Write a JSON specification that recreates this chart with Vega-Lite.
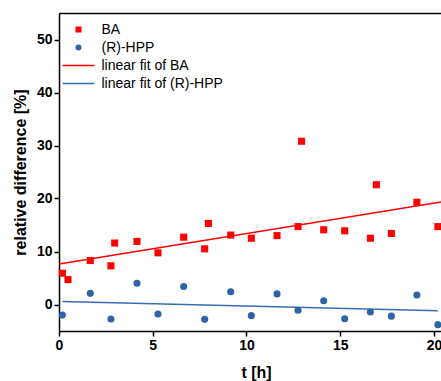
{
  "$schema": "https://vega.github.io/schema/vega-lite/v6.json",
  "autosize": {"type": "none"},
  "padding": {"left": 59, "top": 13, "right": 0, "bottom": 50},
  "width": 383,
  "height": 318,
  "background": "white",
  "config": {
    "view": {"stroke": null},
    "font": "Liberation Sans",
    "axis": {
      "grid": false,
      "domainColor": "black",
      "domainWidth": 1.5,
      "tickColor": "black",
      "tickWidth": 1.5,
      "tickSize": 5,
      "labelFont": "Liberation Sans",
      "labelFontSize": 14,
      "labelFontWeight": "bold",
      "labelColor": "black",
      "labelFlush": false,
      "titleFont": "Liberation Sans",
      "titleFontSize": 16,
      "titleFontWeight": "bold",
      "titleColor": "black"
    },
    "legend": {
      "title": null,
      "orient": "none",
      "legendX": 12.5,
      "legendY": 9.5,
      "labelFont": "Liberation Sans",
      "labelFontSize": 14,
      "labelColor": "black",
      "labelOffset": 16,
      "rowPadding": 4,
      "symbolSize": 36,
      "symbolOpacity": 1
    }
  },
  "datasets": {
    "pts": [
      {"t": 0.18, "v": 5.9, "series": "BA"},
      {"t": 0.48, "v": 4.7, "series": "BA"},
      {"t": 1.67, "v": 8.3, "series": "BA"},
      {"t": 2.77, "v": 7.3, "series": "BA"},
      {"t": 2.97, "v": 11.6, "series": "BA"},
      {"t": 4.16, "v": 11.9, "series": "BA"},
      {"t": 5.28, "v": 9.75, "series": "BA"},
      {"t": 6.65, "v": 12.7, "series": "BA"},
      {"t": 7.77, "v": 10.5, "series": "BA"},
      {"t": 7.97, "v": 15.3, "series": "BA"},
      {"t": 9.16, "v": 13.1, "series": "BA"},
      {"t": 10.26, "v": 12.5, "series": "BA"},
      {"t": 11.63, "v": 13.0, "series": "BA"},
      {"t": 12.75, "v": 14.7, "series": "BA"},
      {"t": 12.94, "v": 30.8, "series": "BA"},
      {"t": 14.12, "v": 14.1, "series": "BA"},
      {"t": 15.24, "v": 13.9, "series": "BA"},
      {"t": 16.61, "v": 12.5, "series": "BA"},
      {"t": 16.93, "v": 22.6, "series": "BA"},
      {"t": 17.73, "v": 13.4, "series": "BA"},
      {"t": 19.09, "v": 19.3, "series": "BA"},
      {"t": 20.21, "v": 14.7, "series": "BA"},
      {"t": 0.18, "v": -2.0, "series": "(R)-HPP"},
      {"t": 1.67, "v": 2.1, "series": "(R)-HPP"},
      {"t": 2.77, "v": -2.75, "series": "(R)-HPP"},
      {"t": 4.16, "v": 4.0, "series": "(R)-HPP"},
      {"t": 5.28, "v": -1.8, "series": "(R)-HPP"},
      {"t": 6.65, "v": 3.4, "series": "(R)-HPP"},
      {"t": 7.77, "v": -2.8, "series": "(R)-HPP"},
      {"t": 9.16, "v": 2.4, "series": "(R)-HPP"},
      {"t": 10.26, "v": -2.1, "series": "(R)-HPP"},
      {"t": 11.63, "v": 2.0, "series": "(R)-HPP"},
      {"t": 12.75, "v": -1.1, "series": "(R)-HPP"},
      {"t": 14.12, "v": 0.7, "series": "(R)-HPP"},
      {"t": 15.24, "v": -2.7, "series": "(R)-HPP"},
      {"t": 16.61, "v": -1.4, "series": "(R)-HPP"},
      {"t": 17.73, "v": -2.2, "series": "(R)-HPP"},
      {"t": 19.09, "v": 1.8, "series": "(R)-HPP"},
      {"t": 20.21, "v": -3.8, "series": "(R)-HPP"}
    ],
    "fits": [
      {"t": 0, "v": 7.64, "series": "linear fit of BA"},
      {"t": 20.43, "v": 19.35, "series": "linear fit of BA"},
      {"t": 0.18, "v": 0.57, "series": "linear fit of (R)-HPP"},
      {"t": 20.21, "v": -1.2, "series": "linear fit of (R)-HPP"}
    ]
  },
  "resolve": {"axis": {"x": "independent"}},
  "layer": [
    {
      "data": {"name": "fits"},
      "mark": {"type": "line", "strokeWidth": 1.5},
      "encoding": {
        "x": {
          "field": "t", "type": "quantitative",
          "scale": {"domain": [0, 20.43], "nice": false, "zero": false},
          "axis": {"orient": "top", "labels": false, "ticks": false, "title": null}
        },
        "y": {
          "field": "v", "type": "quantitative",
          "scale": {"domain": [-5, 55], "nice": false, "zero": false},
          "axis": {"values": [0, 10, 20, 30, 40, 50], "title": "relative difference [%]", "titlePadding": 8}
        },
        "color": {
          "field": "series", "type": "nominal",
          "scale": {
            "domain": ["BA", "(R)-HPP", "linear fit of BA", "linear fit of (R)-HPP"],
            "range": ["#ff0000", "#2e64a6", "#ff0000", "#3a6db3"]
          }
        }
      }
    },
    {
      "data": {"name": "pts"},
      "mark": {"type": "point", "filled": true, "opacity": 1, "size": 50},
      "encoding": {
        "x": {
          "field": "t", "type": "quantitative",
          "scale": {"domain": [0, 20.43], "nice": false, "zero": false},
          "axis": {"orient": "bottom", "values": [0, 5, 10, 15, 20], "title": "t [h]", "titleX": 197, "titlePadding": 12}
        },
        "y": {
          "field": "v", "type": "quantitative",
          "scale": {"domain": [-5, 55], "nice": false, "zero": false}
        },
        "color": {
          "field": "series", "type": "nominal",
          "scale": {
            "domain": ["BA", "(R)-HPP", "linear fit of BA", "linear fit of (R)-HPP"],
            "range": ["#ff0000", "#2e64a6", "#ff0000", "#3a6db3"]
          },
          "legend": {
            "encode": {
              "symbols": {
                "update": {
                  "stroke": {"scale": "color", "field": "value"},
                  "strokeWidth": {"signal": "indexof(['linear fit of BA','linear fit of (R)-HPP'], datum.value) >= 0 ? 1.5 : 0"}
                }
              }
            }
          }
        },
        "shape": {
          "field": "series", "type": "nominal",
          "scale": {
            "domain": ["BA", "(R)-HPP", "linear fit of BA", "linear fit of (R)-HPP"],
            "range": ["square", "circle", "M-5.3,0H5.3", "M-5.3,0H5.3"]
          }
        }
      }
    }
  ]
}
